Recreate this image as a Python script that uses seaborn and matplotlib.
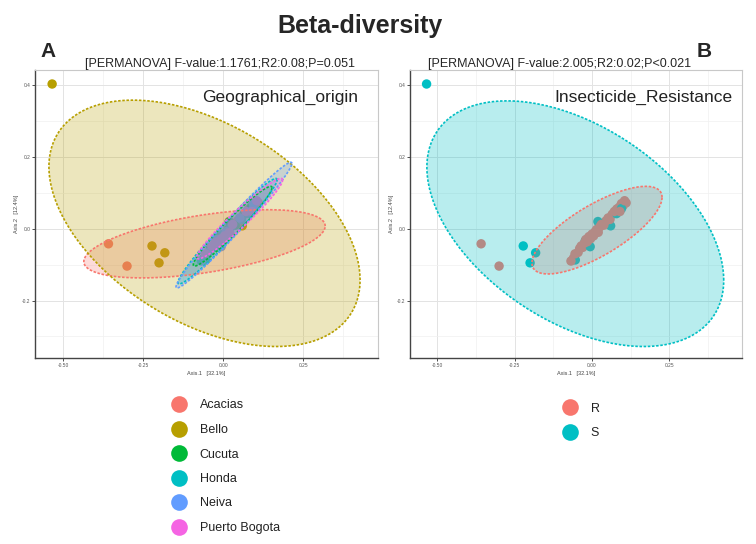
import numpy as np
import pandas as pd
import matplotlib
matplotlib.use("Agg")
import matplotlib.pyplot as plt
from matplotlib.lines import Line2D
from matplotlib.ticker import MultipleLocator, FixedLocator
import seaborn as sns

sns.set_style("white")
plt.rcParams['font.family'] = ['Liberation Sans', 'DejaVu Sans']

# ---------------- data ----------------
axis1 = [-0.534, -0.222, -0.182, -0.200, 0.060,
         -0.358, -0.300, 0.045, 0.080, 0.100, 0.110,
         -0.040, -0.010, 0.015, 0.038, 0.065, 0.088, -0.022, 0.019,
         -0.060, -0.030, 0.000, 0.025, 0.058, -0.054, 0.079,
         -0.068, -0.045, -0.020, 0.010, 0.052, 0.095, -0.006, 0.095,
         -0.055, -0.035, -0.025, -0.015, -0.005, 0.005, 0.020, 0.030, 0.072, 0.105, 0.090]
axis2 = [0.403, -0.048, -0.067, -0.095, 0.008,
         -0.042, -0.104, 0.022, 0.055, 0.064, 0.072,
         -0.055, -0.022, -0.002, 0.010, 0.040, 0.060, -0.034, 0.020,
         -0.082, -0.052, -0.015, 0.005, 0.026, -0.087, 0.042,
         -0.090, -0.066, -0.030, -0.008, 0.030, 0.070, -0.050, 0.056,
         -0.070, -0.048, -0.040, -0.036, -0.028, -0.020, -0.010, 0.012, 0.048, 0.078, 0.048]
origin = (["Bello"] * 5 + ["Acacias"] * 6 + ["Cucuta"] * 8 + ["Honda"] * 7
          + ["Neiva"] * 8 + ["Puerto Bogota"] * 11)
resistance = (["S"] * 5 + ["R"] * 6 + ["R"] * 6 + ["S"] * 2 + ["R"] * 5 + ["S"] * 2
              + ["R"] * 6 + ["S"] * 2 + ["R"] * 11)

origin_levels = ["Acacias", "Bello", "Cucuta", "Honda", "Neiva", "Puerto Bogota"]
resist_levels = ["R", "S"]
origin_colors = ["#F8766D", "#B79F00", "#00BA38", "#00BFC4", "#619CFF", "#F564E3"]
resist_colors = ["#F8766D", "#00BFC4"]

# ellipse parameters (center x, center y, half-range x, half-range y, correlation)
ell_origin_cx = [-0.058, -0.058, 0.030, 0.014, 0.034, 0.052]
ell_origin_cy = [-0.042, 0.015, 0.007, -0.007, 0.010, 0.028]
ell_origin_hx = [0.377, 0.486, 0.123, 0.155, 0.181, 0.134]
ell_origin_hy = [0.095, 0.343, 0.111, 0.147, 0.175, 0.112]
ell_origin_r = [0.52, -0.46, 0.965, 0.975, 0.982, 0.96]

ell_res_cx = [0.016, -0.054]
ell_res_cy = [-0.004, 0.014]
ell_res_hx = [0.210, 0.479]
ell_res_hy = [0.122, 0.342]
ell_res_r = [0.75, -0.46]

x_ticks = [-0.50, -0.25, 0.00, 0.25]
x_ticklabels = ["-0.50", "-0.25", "0.00", "0.25"]
y_ticks = [-0.2, 0.0, 0.2, 0.4]
y_ticklabels = ["-0.2", "0.0", "0.2", "0.4"]

titles = ["[PERMANOVA] F-value:1.1761;R2:0.08;P=0.051",
          "[PERMANOVA] F-value:2.005;R2:0.02;P<0.021"]

df = pd.DataFrame({"Axis.1": axis1, "Axis.2": axis2,
                   "Geographical_origin": origin, "Insecticide_Resistance": resistance})

W, H = 756, 544
fig = plt.figure(figsize=(W / 100, H / 100), dpi=100)


def fx(px):
    return px / W


def fy(py):
    return 1 - py / H


axA = fig.add_axes([fx(35), fy(358), fx(378 - 35), (358 - 70) / H])
axB = fig.add_axes([fx(410), fy(358), fx(742 - 410), (358 - 70) / H])

t = np.linspace(0, 2 * np.pi, 200)


def draw_ellipse(ax, cx, cy, hx, hy, r, color, alpha):
    cov = np.array([[hx * hx, r * hx * hy], [r * hx * hy, hy * hy]])
    L = np.linalg.cholesky(cov)
    pts = L @ np.vstack([np.cos(t), np.sin(t)])
    xs = cx + pts[0]
    ys = cy + pts[1]
    ax.fill(xs, ys, color=color, alpha=alpha, lw=0, zorder=3)
    ax.plot(xs, ys, color=color, lw=1.2, ls=(0, (1.5, 1.0)), zorder=4)


def style_axes(ax):
    ax.set_xlim(-0.5875, 0.484)
    ax.set_ylim(-0.36, 0.442)
    ax.xaxis.set_major_locator(FixedLocator(x_ticks))
    ax.yaxis.set_major_locator(FixedLocator(y_ticks))
    ax.set_xticklabels(x_ticklabels)
    ax.set_yticklabels(y_ticklabels)
    ax.xaxis.set_minor_locator(MultipleLocator(0.125))
    ax.yaxis.set_minor_locator(MultipleLocator(0.1))
    ax.grid(which="major", color="#e3e3e3", lw=0.7, zorder=0)
    ax.grid(which="minor", color="#f0f0f0", lw=0.5, zorder=0)
    ax.set_axisbelow(True)
    ax.tick_params(which="major", length=2, width=0.6, labelsize=3.5,
                   labelcolor="#555555", color="#333333", pad=1.5,
                   left=True, bottom=True)
    ax.tick_params(which="minor", length=0)
    for s in ["left", "bottom"]:
        ax.spines[s].set_color("#444444")
        ax.spines[s].set_linewidth(1.0)
    for s in ["top", "right"]:
        ax.spines[s].set_color("#c8c8c8")
        ax.spines[s].set_linewidth(0.8)
    ax.set_xlabel("Axis.1   [32.1%]", fontsize=4, color="#444444", labelpad=2)
    ax.set_ylabel("Axis.2   [12.4%]", fontsize=4, color="#444444", labelpad=2)


# Panel A
sns.scatterplot(data=df, x="Axis.1", y="Axis.2", hue="Geographical_origin",
                hue_order=origin_levels, palette=origin_colors, s=46,
                edgecolor="none", legend=False, ax=axA, zorder=2)
for i, name in enumerate(origin_levels):
    draw_ellipse(axA, ell_origin_cx[i], ell_origin_cy[i], ell_origin_hx[i],
                 ell_origin_hy[i], ell_origin_r[i], origin_colors[i], 0.26)
style_axes(axA)

# Panel B
sns.scatterplot(data=df, x="Axis.1", y="Axis.2", hue="Insecticide_Resistance",
                hue_order=resist_levels, palette=resist_colors, s=46,
                edgecolor="none", legend=False, ax=axB, zorder=2)
for i, name in enumerate(resist_levels):
    draw_ellipse(axB, ell_res_cx[i], ell_res_cy[i], ell_res_hx[i],
                 ell_res_hy[i], ell_res_r[i], resist_colors[i], 0.28)
style_axes(axB)

# Texts
fig.text(fx(360), fy(33), "Beta-diversity", fontsize=18, fontweight="bold",
         ha="center", va="baseline")
fig.text(fx(40), fy(57), "A", fontsize=15, fontweight="bold", ha="left", va="baseline")
fig.text(fx(697), fy(57), "B", fontsize=15, fontweight="bold", ha="left", va="baseline")
fig.text(fx(220), fy(67), titles[0], fontsize=9, ha="center", va="baseline")
fig.text(fx(560), fy(67), titles[1], fontsize=9, ha="center", va="baseline")
fig.text(fx(358), fy(102), "Geographical_origin", fontsize=12.5, ha="right",
         va="baseline", color="#222222")
fig.text(fx(733), fy(102), "Insecticide_Resistance", fontsize=12.5, ha="right",
         va="baseline", color="#222222")

# Legends
hA = [Line2D([], [], marker="o", ls="", markersize=12, color=c, markeredgewidth=0)
      for c in origin_colors]
fig.legend(hA, origin_levels, loc="upper left", bbox_to_anchor=(fx(171.5), fy(399.5)),
           frameon=False, fontsize=9, labelspacing=1.0, handlelength=1.2,
           handletextpad=1.05, borderpad=0, borderaxespad=0, labelcolor="#222222")
hB = [Line2D([], [], marker="o", ls="", markersize=12, color=c, markeredgewidth=0)
      for c in resist_colors]
fig.legend(hB, resist_levels, loc="upper left", bbox_to_anchor=(fx(562.5), fy(402.5)),
           frameon=False, fontsize=9, labelspacing=1.0, handlelength=1.2,
           handletextpad=1.05, borderpad=0, borderaxespad=0, labelcolor="#222222")

fig.savefig("out.png", dpi=100)
